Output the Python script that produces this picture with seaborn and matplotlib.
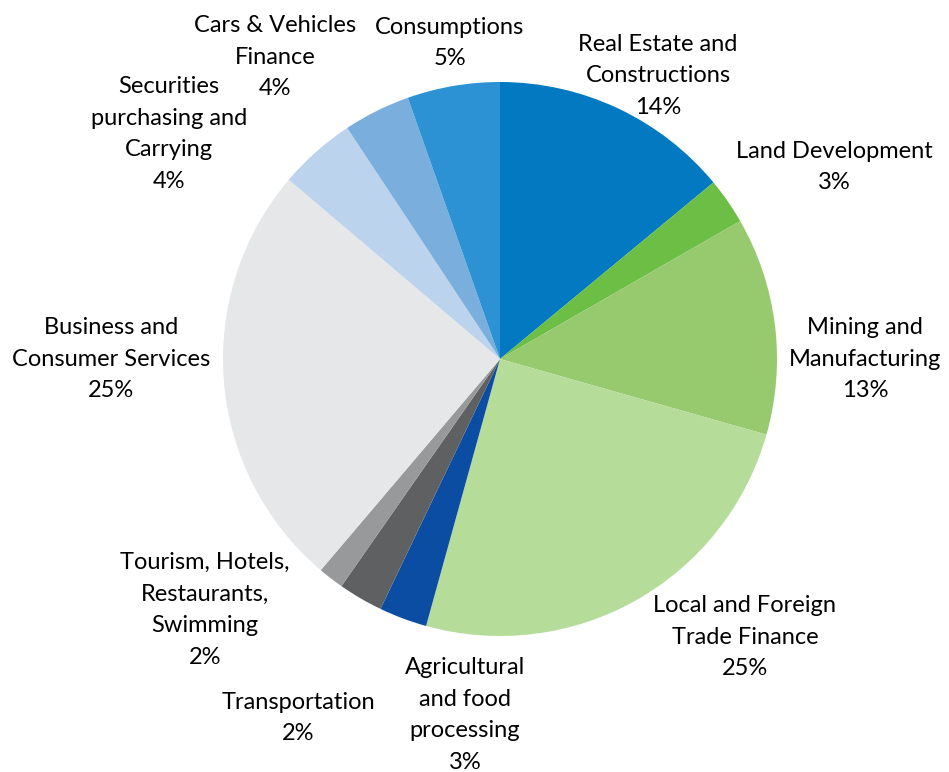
import matplotlib
matplotlib.use("Agg")
import matplotlib.pyplot as plt
import seaborn as sns

# ---- data ----
categories = [
    "Real Estate and\nConstructions",
    "Land Development",
    "Mining and\nManufacturing",
    "Local and Foreign\nTrade Finance",
    "Agricultural\nand food\nprocessing",
    "Transportation",
    "Tourism, Hotels,\nRestaurants,\nSwimming",
    "Business and\nConsumer Services",
    "Securities\npurchasing and\nCarrying",
    "Cars & Vehicles\nFinance",
    "Consumptions",
]
shares = [14.0, 2.7, 12.7, 24.9, 2.8, 2.6, 1.5, 25.0, 4.5, 3.9, 5.4]
pct_labels = ["14%", "3%", "13%", "25%", "3%", "2%", "2%", "25%", "4%", "4%", "5%"]

# ---- styling ----
colors = ["#0279C1", "#6CBE45", "#97C96E", "#B6DC9A", "#0A4DA2", "#5F6062",
          "#98999B", "#E6E7E8", "#BCD3EE", "#7AAEDC", "#2D92D4"]
# label centres in figure pixels (x, y from top)
label_pos = [(658, 76), (834, 167), (865, 359), (745, 637), (465, 715),
             (298, 718), (205, 610), (111, 359), (169, 134), (275, 57), (450, 43)]

sns.set_theme(style="white")
plt.rcParams["font.family"] = ["Lato", "DejaVu Sans"]

W, H = 949, 772
fig = plt.figure(figsize=(W / 100, H / 100), dpi=100)
ax = fig.add_axes([0, 0, 1, 1])

cx, cy, r = 500, H - 359, 277
ax.pie(shares, colors=colors, startangle=90, counterclock=False,
       center=(cx, cy), radius=r, frame=True,
       wedgeprops=dict(linewidth=0))
ax.set_xlim(0, W)
ax.set_ylim(0, H)
ax.set_aspect("equal")
ax.axis("off")

for cat, pct, (lx, ly) in zip(categories, pct_labels, label_pos):
    ax.text(lx, H - ly, f"{cat}\n{pct}", ha="center", va="center",
            fontsize=17, linespacing=1.62, color="black")

fig.savefig("out.png", dpi=100)
